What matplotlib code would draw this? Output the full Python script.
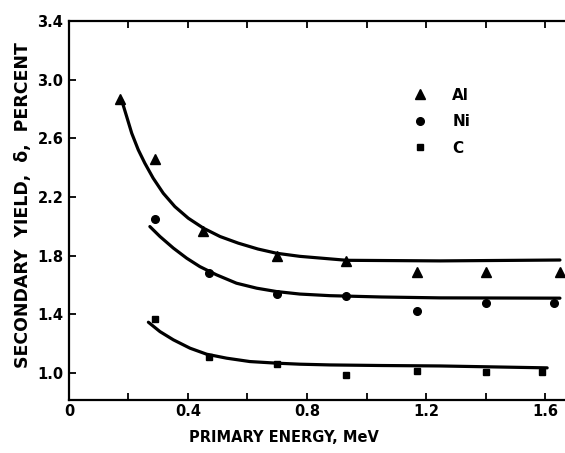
import matplotlib
matplotlib.use("Agg")
import matplotlib.pyplot as plt
import numpy as np

# measured points (energy in MeV, yield in percent)
al_x = [0.17, 0.29, 0.45, 0.70, 0.93, 1.17, 1.40, 1.65]
al_y = [2.87, 2.46, 1.97, 1.80, 1.76, 1.69, 1.69, 1.69]
ni_x = [0.29, 0.47, 0.70, 0.93, 1.17, 1.40, 1.63]
ni_y = [2.05, 1.68, 1.54, 1.525, 1.42, 1.475, 1.475]
c_x = [0.29, 0.47, 0.70, 0.93, 1.17, 1.40, 1.59]
c_y = [1.365, 1.11, 1.06, 0.985, 1.015, 1.005, 1.005]

# drawn curves
al_cx = [0.177, 0.194, 0.211, 0.233, 0.255, 0.283, 0.317, 0.356, 0.401, 0.452,
         0.508, 0.569, 0.635, 0.698, 0.776, 0.934, 1.247, 1.65]
al_cy = [2.861, 2.748, 2.634, 2.521, 2.43, 2.328, 2.225, 2.134, 2.055, 1.987,
         1.930, 1.885, 1.845, 1.816, 1.795, 1.768, 1.764, 1.77]
ni_cx = [0.272, 0.306, 0.351, 0.396, 0.440, 0.496, 0.563, 0.631, 0.698, 0.776,
         0.877, 1.05, 1.247, 1.65]
ni_cy = [1.998, 1.930, 1.851, 1.782, 1.725, 1.669, 1.612, 1.578, 1.555, 1.538,
         1.527, 1.518, 1.512, 1.51]
c_cx = [0.267, 0.306, 0.351, 0.407, 0.463, 0.530, 0.608, 0.698, 0.776, 0.877,
        1.05, 1.247, 1.607]
c_cy = [1.346, 1.282, 1.226, 1.169, 1.128, 1.101, 1.078, 1.067, 1.060, 1.055,
        1.051, 1.048, 1.035]

plt.rcParams['font.family'] = ['DejaVu Sans']
plt.rcParams['font.weight'] = 'bold'

fig = plt.figure(figsize=(5.65, 4.53), dpi=100)
ax = fig.add_axes([0.122, 0.117, 0.878, 0.837])

for cx, cy in [(al_cx, al_cy), (ni_cx, ni_cy), (c_cx, c_cy)]:
    ax.plot(cx, cy, color='black', lw=2.3, solid_capstyle='round',
            solid_joinstyle='round')

ax.plot(al_x, al_y, '^', color='black', ms=6.5, label='Al')
ax.plot(ni_x, ni_y, 'o', color='black', ms=5.5, label='Ni')
ax.plot(c_x, c_y, 's', color='black', ms=4.8, label='C')

ax.set_xlim(0, 1.667)
ax.set_ylim(0.816, 3.4)

ax.set_xticks([0, 0.4, 0.8, 1.2, 1.6])
ax.set_xticklabels(['0', '0.4', '0.8', '1.2', '1.6'])
ax.set_xticks(np.arange(0.2, 1.61, 0.4), minor=True)
ax.set_yticks([1.0, 1.4, 1.8, 2.2, 2.6, 3.0, 3.4])
ax.set_yticklabels(['1.0', '1.4', '1.8', '2.2', '2.6', '3.0', '3.4'])

ax.tick_params(axis='both', which='both', direction='in', width=1.3, labelsize=10.5)
ax.tick_params(axis='x', which='both', top=True, length=5, pad=3)
ax.tick_params(axis='y', which='major', length=5, pad=4)

ax.spines['right'].set_visible(False)
for s in ['left', 'bottom', 'top']:
    ax.spines[s].set_linewidth(1.6)

ax.set_xlabel('PRIMARY ENERGY, MeV', fontsize=10.5, fontweight='bold')
ax.xaxis.set_label_coords(0.433, -0.08)
ax.set_ylabel('SECONDARY  YIELD,  δ,  PERCENT', fontsize=12.5, fontweight='bold')
ax.yaxis.set_label_coords(-0.075, 0.515)

leg = ax.legend(loc='upper left', bbox_to_anchor=(0.665, 0.86), frameon=False,
                handlelength=1.0, handletextpad=1.6, labelspacing=0.75,
                prop={'size': 11, 'weight': 'bold'})

fig.savefig('out.png', dpi=100)
